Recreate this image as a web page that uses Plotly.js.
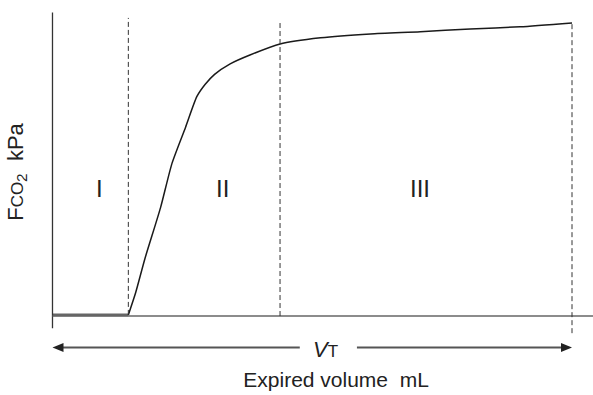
<!DOCTYPE html>
<html>
<head>
<meta charset="utf-8">
<script src="https://cdn.plot.ly/plotly-3.0.1.min.js"></script>
<style>html,body{margin:0;padding:0;background:#fff;}#chart{width:593px;height:395px;}</style>
</head>
<body>
<div id="chart"></div>
<script>
// Data (volume in mL, FCO2 in kPa)
const volume = [73, 80, 89, 104, 115, 128, 139, 147, 156, 171, 190, 219, 258, 306, 354, 402, 450, 500];
const fco2   = [0.02, 0.42, 1.04, 1.96, 2.76, 3.41, 3.97, 4.19, 4.37, 4.56, 4.72, 4.92, 5.03, 5.10, 5.14, 5.19, 5.23, 5.30];
const flatVolume = [0, 73];
const flatFco2 = [0.02, 0.02];
const phaseBoundaries = [73, 219, 500];
const boundaryTops = [5.39, 5.32, 5.32];
const boundaryBottoms = [0.02, 0, -0.31];
const phaseLabels = ['I', 'II', 'III'];
const phaseLabelX = [45, 164, 354];
const phaseLabelY = 2.30;
const tidalVolume = 500;

const FONT = 'Liberation Sans Narrow, Arial Narrow, Liberation Sans, Arial, sans-serif';
const X_RANGE = [-2.4, 520.2];
const Y_RANGE = [-0.325, 5.533];
const M = {l: 50, r: 0, t: 10, b: 61};
const PLOT_W = 593 - M.l - M.r, PLOT_H = 395 - M.t - M.b;
const toPaperX = v => (v - X_RANGE[0]) / (X_RANGE[1] - X_RANGE[0]);
const pxToPaperY = py => (395 - M.b - py) / PLOT_H;
const pxPerMl = PLOT_W / (X_RANGE[1] - X_RANGE[0]);
const mlToPx = v => M.l + (v - X_RANGE[0]) * pxPerMl;
const pxToPaperX = px => (px - M.l) / PLOT_W;

const traces = [
  {x: flatVolume, y: flatFco2, mode: 'lines', line: {color: '#666', width: 2.6}, hoverinfo: 'skip'},
  {x: volume, y: fco2, mode: 'lines', line: {color: '#1a1a1a', width: 1.5, shape: 'spline', smoothing: 0.6}, hoverinfo: 'skip'}
];

const shapes = [
  {type: 'line', xref: 'x', yref: 'y', x0: 0, x1: 0, y0: -0.22, y1: 5.49, line: {color: '#333', width: 1.3}},
  {type: 'line', xref: 'x', yref: 'y', x0: 0, x1: 521, y0: 0, y1: 0, line: {color: '#666', width: 1.7}}
];
phaseBoundaries.forEach((b, i) => {
  shapes.push({type: 'line', xref: 'x', yref: 'y', x0: b, x1: b, y0: boundaryBottoms[i], y1: boundaryTops[i],
    line: {color: '#333', width: 1, dash: '5px,3px'}});
});

// Double-headed V_T arrow below the axis (drawn in paper space)
const arrowPy = 347.5;
const leftTail = 238, rightTail = 293;
const headLen = 11, headHalf = 4.5;
const leftTip = mlToPx(0), rightTip = mlToPx(tidalVolume);
const P = (px, py) => pxToPaperX(px).toFixed(5) + ',' + pxToPaperY(py).toFixed(5);
shapes.push(
  {type: 'line', xref: 'paper', yref: 'paper', x0: pxToPaperX(leftTip + headLen - 1), x1: pxToPaperX(mlToPx(leftTail)),
    y0: pxToPaperY(arrowPy), y1: pxToPaperY(arrowPy), line: {color: '#555', width: 2}},
  {type: 'line', xref: 'paper', yref: 'paper', x0: pxToPaperX(mlToPx(rightTail)), x1: pxToPaperX(rightTip - headLen + 1),
    y0: pxToPaperY(arrowPy), y1: pxToPaperY(arrowPy), line: {color: '#555', width: 2}},
  {type: 'path', xref: 'paper', yref: 'paper', fillcolor: '#222', line: {width: 0},
    path: 'M' + P(leftTip, arrowPy) + 'L' + P(leftTip + headLen, arrowPy - headHalf) + 'L' + P(leftTip + headLen, arrowPy + headHalf) + 'Z'},
  {type: 'path', xref: 'paper', yref: 'paper', fillcolor: '#222', line: {width: 0},
    path: 'M' + P(rightTip, arrowPy) + 'L' + P(rightTip - headLen, arrowPy - headHalf) + 'L' + P(rightTip - headLen, arrowPy + headHalf) + 'Z'}
);

const annotations = [
  {x: toPaperX(263), y: pxToPaperY(349), xref: 'paper', yref: 'paper', xanchor: 'center', yanchor: 'middle',
    text: '<i>V</i><span style="font-size:17px">T</span>', showarrow: false,
    font: {family: FONT, size: 22, color: '#222'}}
];
phaseLabels.forEach((t, i) => {
  annotations.push({x: phaseLabelX[i], y: phaseLabelY, xref: 'x', yref: 'y', xanchor: 'center', yanchor: 'middle',
    text: t, showarrow: false, font: {family: FONT, size: 24, color: '#222'}});
});

const layout = {
  width: 593, height: 395,
  margin: M,
  paper_bgcolor: '#fff', plot_bgcolor: '#fff',
  showlegend: false,
  xaxis: {range: X_RANGE, showgrid: false, zeroline: false, showline: false, showticklabels: false, ticks: '',
    title: {text: '&nbsp;&nbsp;&nbsp;&nbsp;&nbsp;Expired volume  mL', standoff: 38, font: {family: FONT, size: 21, color: '#222'}}},
  yaxis: {range: Y_RANGE, showgrid: false, zeroline: false, showline: false, showticklabels: false, ticks: '',
    title: {text: 'F<span style="font-size:17px">CO</span><sub>2</sub>  kPa', standoff: 19, font: {family: FONT, size: 22, color: '#222'}}},
  shapes: shapes,
  annotations: annotations
};

Plotly.newPlot('chart', traces, layout, {displayModeBar: false, staticPlot: true});
</script>
</body>
</html>
